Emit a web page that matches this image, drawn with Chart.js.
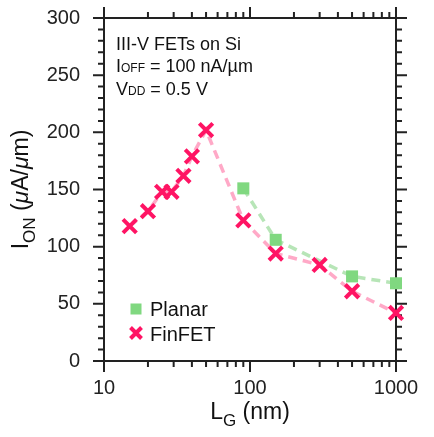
<!DOCTYPE html>
<html>
<head>
<meta charset="utf-8">
<script src="https://cdn.jsdelivr.net/npm/chart.js@4.4.0/dist/chart.umd.min.js"></script>
<style>
html, body { margin: 0; padding: 0; background: #fff; }
#wrap { width: 434px; height: 437px; }
</style>
</head>
<body>
<div id="wrap"><canvas id="myChart" width="434" height="437"></canvas></div>
<script>
// gate length (nm) and on-current (uA/um)
const planarX = [90, 150, 500, 1000];
const planarY = [151, 106, 74, 68];
const finfetX = [15, 20, 25, 29, 35, 40, 50, 90, 150, 300, 500, 1000];
const finfetY = [118, 131, 148, 148, 162, 179, 202, 123, 94, 84, 61, 42];
const xTickLabels = [10, 100, 1000];
const yTickLabels = [0, 50, 100, 150, 200, 250, 300];

const FONT = '"Liberation Sans", Arial, sans-serif';
const ink = '#222';

function toPoints(xs, ys) {
    return xs.map((x, i) => ({ x: x, y: ys[i] }));
}

// draws a run of [text, size, dy, italic] pieces starting at x
function drawRuns(ctx, runs, x, y, align) {
    let total = 0;
    for (let r of runs) {
        ctx.font = (r[3] ? 'italic ' : '') + r[1] + 'px ' + FONT;
        total += ctx.measureText(r[0]).width;
    }
    let cx = align === 'center' ? x - total / 2 : x;
    for (let r of runs) {
        ctx.font = (r[3] ? 'italic ' : '') + r[1] + 'px ' + FONT;
        ctx.fillText(r[0], cx, y + r[2]);
        cx += ctx.measureText(r[0]).width;
    }
}

const framePlugin = {
    id: 'frame',
    beforeDatasetsDraw(chart) {
        const ctx = chart.ctx;
        const a = chart.chartArea;
        const xs = chart.scales.x;
        const ys = chart.scales.y;
        ctx.save();
        ctx.strokeStyle = ink;
        ctx.lineWidth = 2;
        ctx.strokeRect(a.left, a.top, a.right - a.left, a.bottom - a.top);
        ctx.beginPath();
        // x ticks, log decades
        for (let d = 10; d <= 1000; d *= 10) {
            for (let m = 1; m <= 9; m++) {
                const v = d * m;
                if (v > 1000) break;
                const px = xs.getPixelForValue(v);
                const len = m === 1 ? 11 : 6;
                ctx.moveTo(px, a.bottom); ctx.lineTo(px, a.bottom + len);
                ctx.moveTo(px, a.top); ctx.lineTo(px, a.top - len);
            }
        }
        // y ticks every 10
        for (let v = 0; v <= 300; v += 10) {
            const py = ys.getPixelForValue(v);
            const len = v % 50 === 0 ? 11 : 6;
            ctx.moveTo(a.left, py); ctx.lineTo(a.left - len, py);
            ctx.moveTo(a.right, py); ctx.lineTo(a.right + len, py);
        }
        ctx.stroke();
        ctx.restore();
    },
    afterDraw(chart) {
        const ctx = chart.ctx;
        const a = chart.chartArea;
        ctx.save();
        ctx.fillStyle = '#111';
        ctx.textBaseline = 'alphabetic';
        ctx.textAlign = 'left';

        // note in the top left corner
        drawRuns(ctx, [['III-V FETs on Si', 18, 0]], 116, 50);
        drawRuns(ctx, [['I', 18, 0], ['OFF', 12, 0], [' = 100 nA/\u00b5m', 18, 0]], 116, 72);
        drawRuns(ctx, [['V', 18, 0], ['DD', 12, 0], [' = 0.5 V', 18, 0]], 116, 95);

        // legend
        const ds = chart.data.datasets;
        ctx.fillStyle = ds[1].pointBackgroundColor;
        ctx.fillRect(130.5, 303.5, 11, 11);
        ctx.strokeStyle = ds[0].pointBorderColor;
        ctx.lineWidth = 4;
        ctx.beginPath();
        ctx.moveTo(130.5, 327.5); ctx.lineTo(141.5, 338.5);
        ctx.moveTo(141.5, 327.5); ctx.lineTo(130.5, 338.5);
        ctx.stroke();
        ctx.fillStyle = '#111';
        drawRuns(ctx, [[ds[1].label, 20, 0]], 150, 316);
        drawRuns(ctx, [[ds[0].label, 20, 0]], 150, 341);

        // axis titles
        drawRuns(ctx, [['L', 23, 0], ['G', 17, 7], [' (nm)', 23, 0]], (a.left + a.right) / 2, 419, 'center');
        ctx.translate(28, (a.top + a.bottom) / 2);
        ctx.rotate(-Math.PI / 2);
        drawRuns(ctx, [['I', 23, 0], ['ON', 17, 7], [' (', 23, 0], ['\u03bc', 23, 0, true], ['A/', 23, 0], ['\u03bc', 23, 0, true], ['m)', 23, 0]], 0, 0, 'center');
        ctx.restore();
    }
};

const ctx = document.getElementById('myChart').getContext('2d');

const myChart = new Chart(ctx, {
    type: 'scatter',
    data: {
        datasets: [
            {
                label: 'FinFET',
                data: toPoints(finfetX, finfetY),
                showLine: true,
                borderColor: 'rgba(255, 140, 180, 0.75)',
                borderWidth: 3.5,
                borderDash: [9, 6],
                pointStyle: 'crossRot',
                pointRadius: 9.5,
                pointBorderWidth: 4,
                pointBorderColor: '#ff1464',
                pointBackgroundColor: '#ff1464',
                clip: false,
                order: 1
            },
            {
                label: 'Planar',
                data: toPoints(planarX, planarY),
                showLine: true,
                borderColor: 'rgba(170, 225, 170, 0.85)',
                borderWidth: 3.5,
                borderDash: [9, 6],
                pointStyle: 'rect',
                pointRadius: 8.5,
                pointBorderWidth: 0,
                pointBorderColor: '#80d880',
                pointBackgroundColor: '#80d880',
                clip: false,
                order: 2
            }
        ]
    },
    options: {
        responsive: false,
        animation: false,
        layout: { padding: { top: 18, right: 38, left: 0, bottom: 0 } },
        plugins: {
            legend: { display: false },
            tooltip: { enabled: false }
        },
        scales: {
            x: {
                type: 'logarithmic',
                min: 10,
                max: 1000,
                afterBuildTicks: s => { s.ticks = xTickLabels.map(v => ({ value: v })); },
                afterFit: s => { s.height = 76; s.paddingLeft = 0; s.paddingRight = 0; },
                grid: { display: false, drawTicks: false },
                border: { display: false },
                ticks: {
                    autoSkip: false,
                    maxRotation: 0,
                    padding: 15,
                    color: ink,
                    font: { family: FONT, size: 20 },
                    callback: v => String(v)
                }
            },
            y: {
                min: 0,
                max: 300,
                afterBuildTicks: s => { s.ticks = yTickLabels.map(v => ({ value: v })); },
                afterFit: s => { s.width = 104; s.paddingTop = 0; s.paddingBottom = 0; },
                grid: { display: false, drawTicks: false },
                border: { display: false },
                ticks: {
                    padding: 24,
                    color: ink,
                    font: { family: FONT, size: 20 }
                }
            }
        }
    },
    plugins: [framePlugin]
});
</script>
</body>
</html>
